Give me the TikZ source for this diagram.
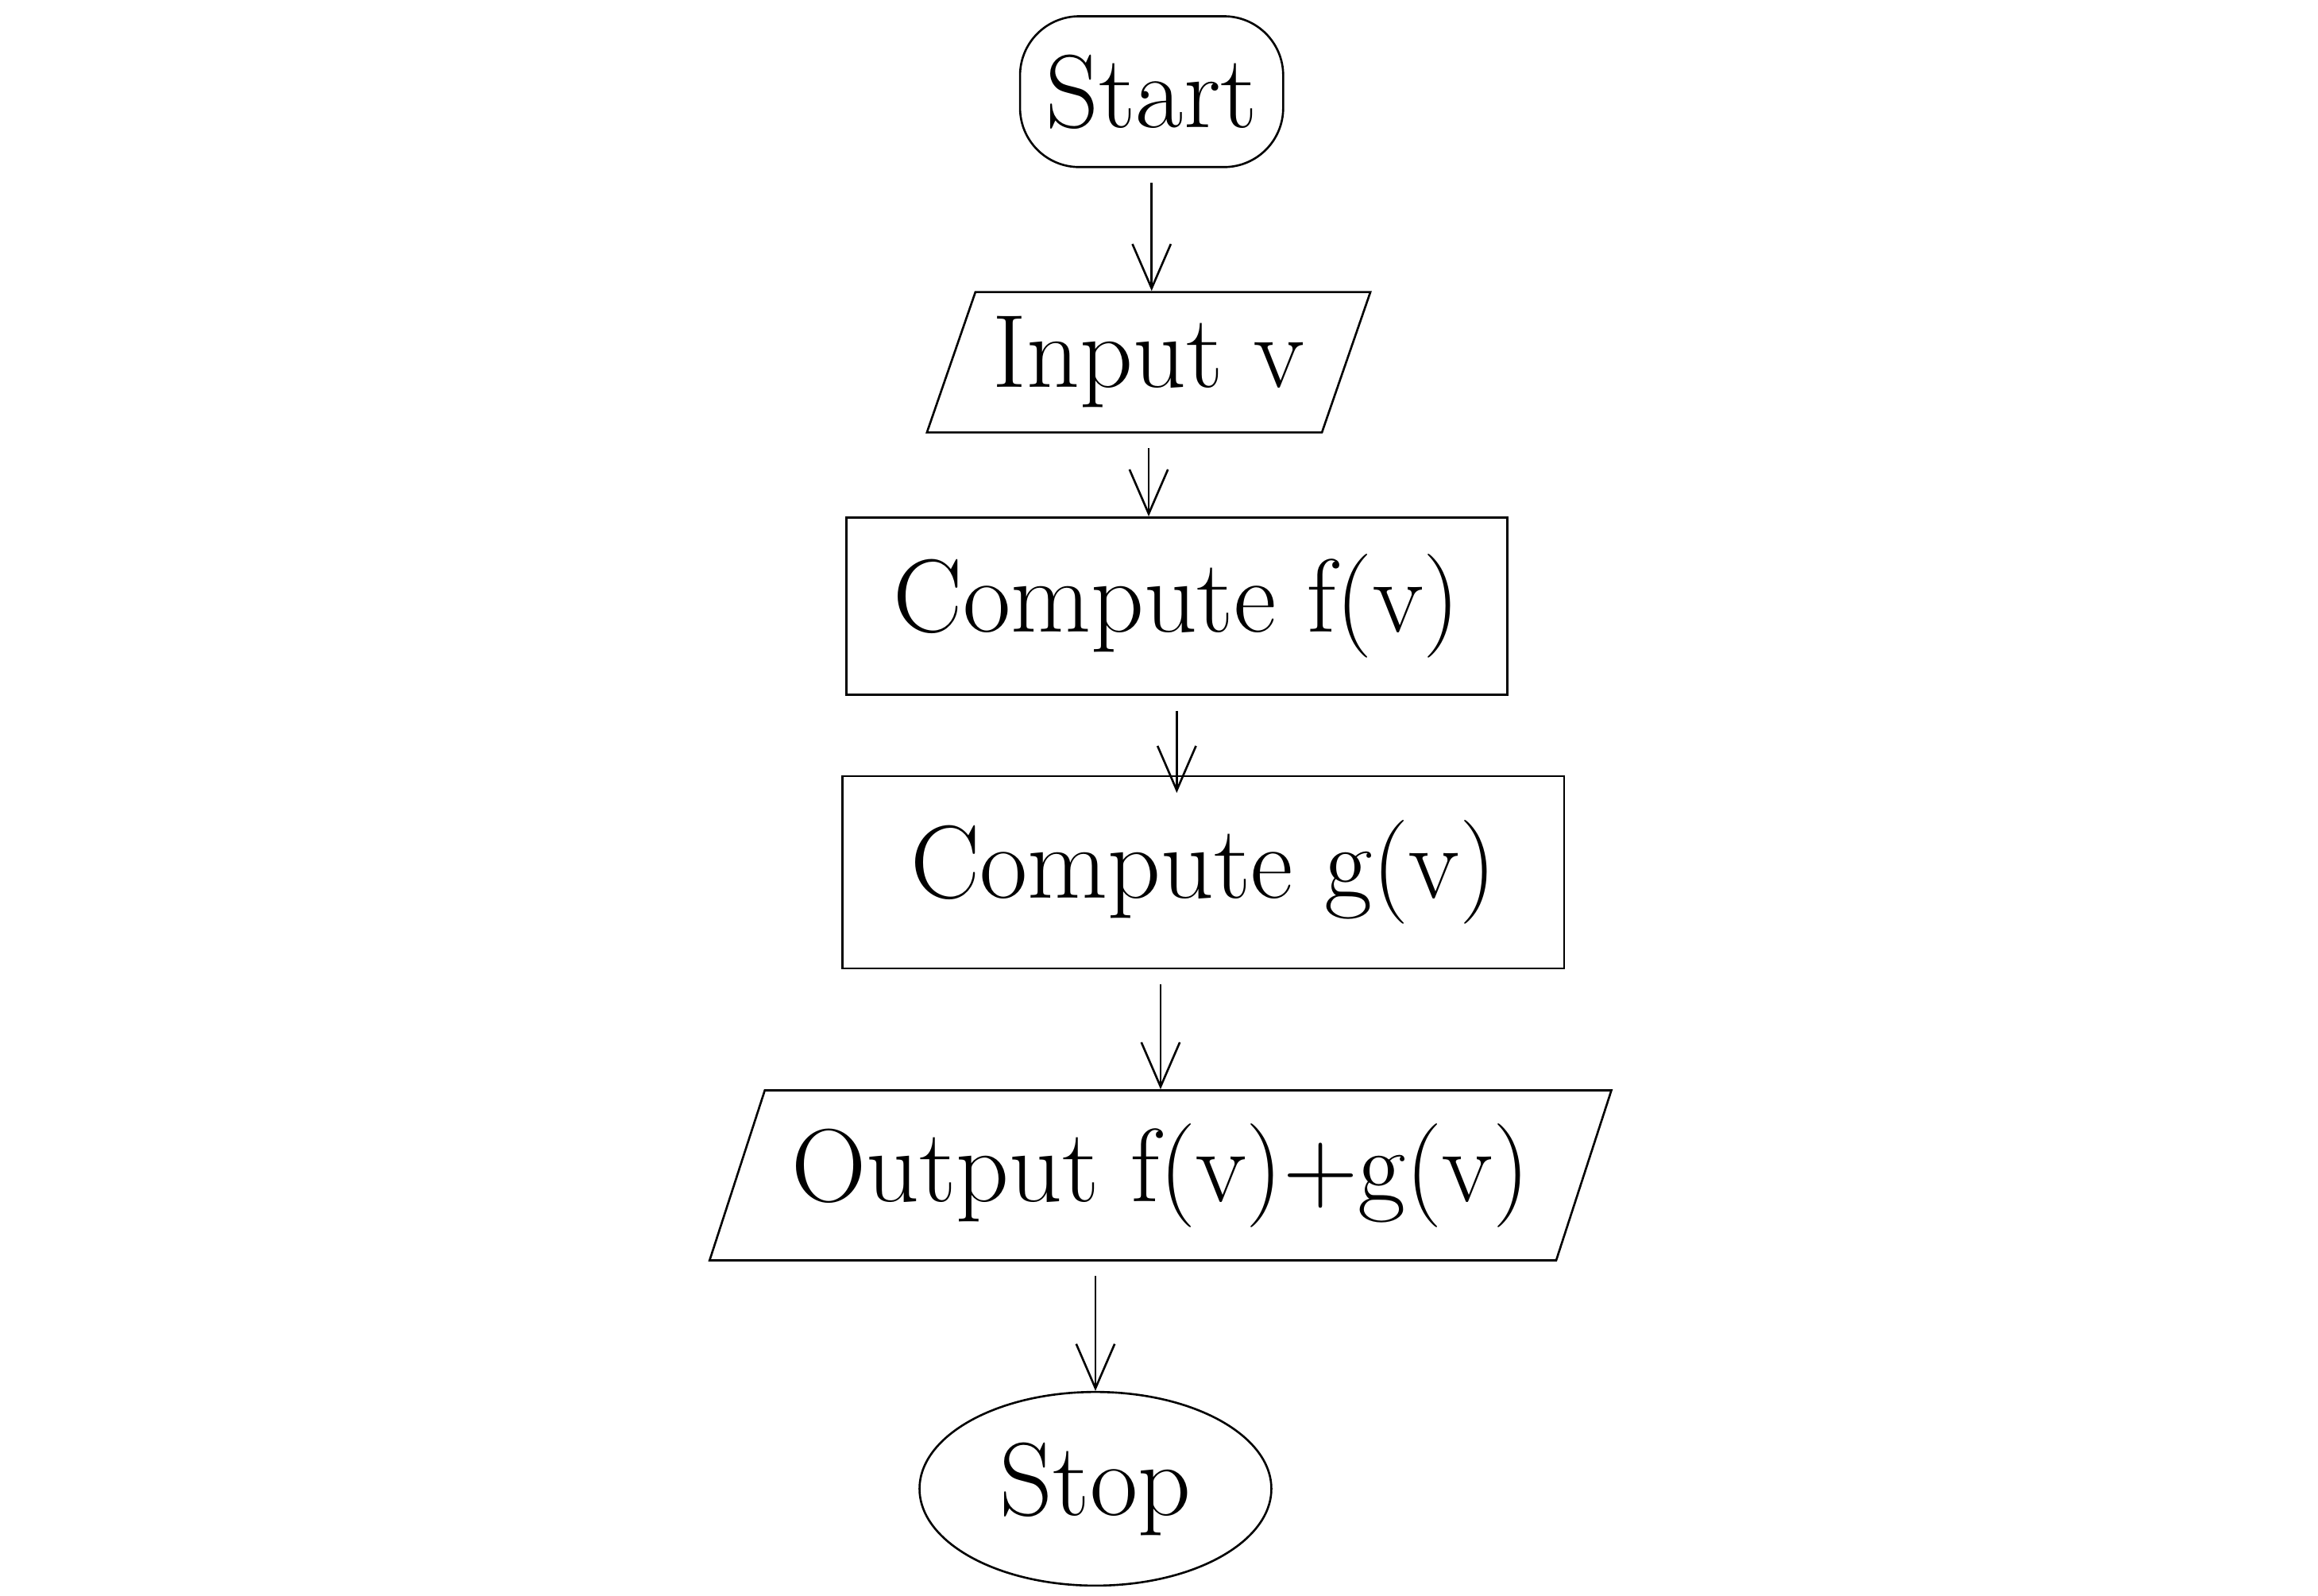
\documentclass[tikz,border=0pt]{standalone}
\usepackage{tikz}
\usetikzlibrary{arrows.meta,shapes.geometric,calc}

\tikzset{
	box/.style={draw, thin, rectangle, inner sep=0pt},
	term/.style={draw, thin, rectangle, rounded corners=4mm, inner sep=0pt},
	io/.style={draw, thin, trapezium, trapezium left angle=62, trapezium right angle=118, trapezium stretches body, inner sep=0pt},
	flow/.style={thin, -{Straight Barb[length=3mm,width=2.6mm]}, shorten <=1mm},
	lbl/.style={font=\fontsize{20}{24}\selectfont}
}

\begin{document}
\begin{tikzpicture}
			%%%%% START %%%%%
			\useasboundingbox (0, 0) rectangle (15.68, -10.79);
			
			\node[term, lbl, minimum width=1.78cm, minimum height=1.02cm] (start) at (7.79, -0.62) {Start};
			\node[io, lbl, minimum width=3.0cm, minimum height=0.95cm] (input) at (7.77, -2.45) {Input v};
			\node[box, lbl, minimum width=4.47cm, minimum height=1.2cm] (compf) at (7.96, -4.1) {Compute f(v)};
			\node[box, lbl, minimum width=4.88cm, minimum height=1.3cm] (compg) at (8.14, -5.9) {Compute g(v)};
			\node[io, lbl, minimum width=6.1cm, minimum height=1.15cm] (output) at (7.85, -7.95) {Output f(v)+g(v)};
			\node[draw, thin, ellipse, lbl, minimum width=2.38cm, minimum height=1.31cm, inner sep=0pt] (stop) at (7.41, -10.07) {Stop};
			
			\draw[flow] (start.south) -- (start.south |- input.north);
			\draw[flow] (input.south) -- (input.south |- compf.north);
			\draw[flow] (compf.south) -- ($(compf.south |- compg.north)+(0,-0.12)$);
			\draw[flow] (compg.south -| output.north) -- (output.north);
			\draw[flow] (output.south -| stop.north) -- (stop.north);
			
			%%%%% END %%%%%
\end{tikzpicture}
\end{document}
